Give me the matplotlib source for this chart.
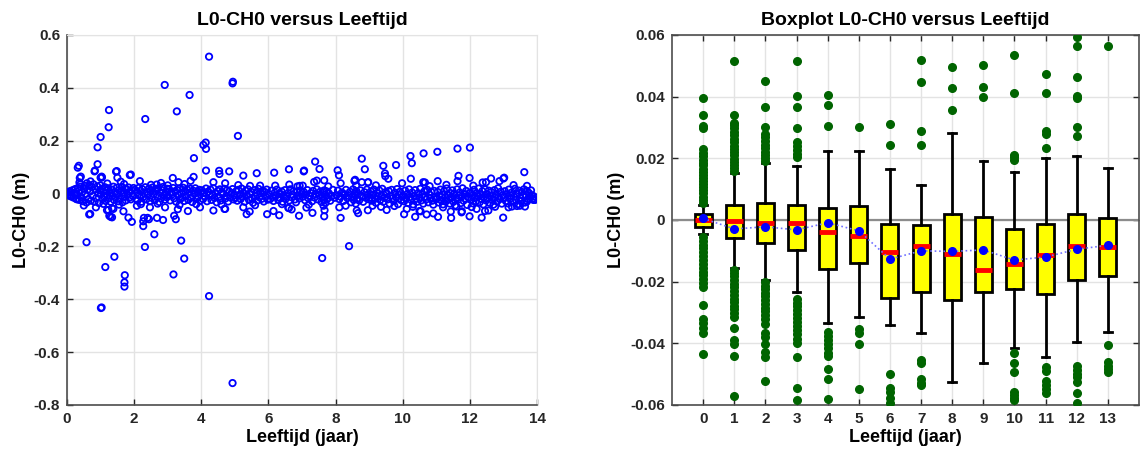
"""L0-CH0 residuals versus age: scatter of all points and a boxplot per year."""
import matplotlib

matplotlib.use("Agg")
import matplotlib.pyplot as plt

plt.rcParams["font.family"] = ["Liberation Sans", "DejaVu Sans"]
plt.rcParams["font.weight"] = "bold"

# ---- left panel: dense band of points, one row per age year ----
BAND_AGES = [
    [0.01, 0.03, 0.05, 0.07, 0.09, 0.12, 0.14, 0.17, 0.19, 0.22, 0.24, 0.27, 0.29, 0.32,
     0.35, 0.37, 0.4, 0.42, 0.45, 0.48, 0.5, 0.53, 0.55, 0.58, 0.61, 0.63, 0.66, 0.69,
     0.71, 0.74, 0.77, 0.79, 0.82, 0.85, 0.87, 0.9, 0.93, 0.95, 0.98, 0.99],
    [1.01, 1.03, 1.06, 1.08, 1.1, 1.13, 1.15, 1.18, 1.2, 1.23, 1.25, 1.28, 1.3, 1.33,
     1.35, 1.38, 1.4, 1.43, 1.45, 1.48, 1.5, 1.53, 1.55, 1.58, 1.6, 1.63, 1.65, 1.68,
     1.7, 1.73, 1.75, 1.78, 1.8, 1.83, 1.85, 1.88, 1.9, 1.93, 1.95, 1.98],
    [2.02, 2.05, 2.08, 2.1, 2.13, 2.16, 2.19, 2.22, 2.24, 2.27, 2.3, 2.33, 2.36, 2.38,
     2.41, 2.44, 2.47, 2.5, 2.52, 2.55, 2.58, 2.61, 2.64, 2.66, 2.69, 2.72, 2.75, 2.78,
     2.8, 2.83, 2.86, 2.89, 2.92, 2.94, 2.97, 2.99],
    [3.01, 3.04, 3.07, 3.1, 3.13, 3.16, 3.19, 3.22, 3.25, 3.28, 3.31, 3.34, 3.37, 3.4,
     3.43, 3.46, 3.49, 3.52, 3.55, 3.58, 3.61, 3.64, 3.67, 3.7, 3.73, 3.76, 3.79, 3.82,
     3.85, 3.88, 3.91, 3.94, 3.96, 3.99],
    [4.02, 4.05, 4.08, 4.11, 4.14, 4.17, 4.2, 4.24, 4.27, 4.3, 4.33, 4.36, 4.39, 4.42,
     4.46, 4.49, 4.52, 4.55, 4.58, 4.61, 4.64, 4.68, 4.71, 4.74, 4.77, 4.8, 4.83, 4.86,
     4.9, 4.93, 4.96, 4.99],
    [5.01, 5.04, 5.07, 5.1, 5.14, 5.17, 5.2, 5.23, 5.26, 5.29, 5.32, 5.36, 5.39, 5.42,
     5.45, 5.48, 5.51, 5.54, 5.58, 5.61, 5.64, 5.67, 5.7, 5.73, 5.76, 5.8, 5.83, 5.86,
     5.89, 5.92, 5.95, 5.98],
    [6.02, 6.05, 6.09, 6.12, 6.15, 6.19, 6.22, 6.25, 6.29, 6.32, 6.35, 6.39, 6.42, 6.45,
     6.49, 6.52, 6.55, 6.59, 6.62, 6.65, 6.69, 6.72, 6.75, 6.79, 6.82, 6.85, 6.89, 6.92,
     6.95, 6.98],
    [7.02, 7.05, 7.09, 7.12, 7.16, 7.19, 7.23, 7.26, 7.3, 7.33, 7.37, 7.4, 7.44, 7.47,
     7.51, 7.55, 7.58, 7.61, 7.63, 7.65, 7.66, 7.68, 7.7, 7.72, 7.76, 7.8, 7.84, 7.88,
     7.92, 7.97],
    [8.03, 8.07, 8.11, 8.15, 8.19, 8.23, 8.27, 8.31, 8.35, 8.39, 8.43, 8.46, 8.49, 8.52,
     8.54, 8.56, 8.58, 8.6, 8.62, 8.64, 8.67, 8.7, 8.74, 8.78, 8.82, 8.86, 8.9, 8.93,
     8.96, 8.99],
    [9.02, 9.05, 9.08, 9.11, 9.14, 9.17, 9.2, 9.23, 9.27, 9.3, 9.33, 9.36, 9.39, 9.42,
     9.45, 9.48, 9.52, 9.55, 9.58, 9.61, 9.64, 9.67, 9.7, 9.73, 9.77, 9.8, 9.83, 9.86,
     9.89, 9.92, 9.95, 9.98],
    [10.01, 10.04, 10.07, 10.1, 10.13, 10.16, 10.19, 10.22, 10.25, 10.28, 10.31, 10.34,
     10.37, 10.4, 10.43, 10.46, 10.49, 10.52, 10.55, 10.58, 10.61, 10.64, 10.67, 10.7,
     10.73, 10.76, 10.79, 10.82, 10.85, 10.88, 10.91, 10.94, 10.96, 10.99],
    [11.01, 11.04, 11.07, 11.09, 11.12, 11.15, 11.18, 11.2, 11.23, 11.26, 11.29, 11.31,
     11.34, 11.37, 11.4, 11.42, 11.45, 11.48, 11.51, 11.53, 11.56, 11.59, 11.62, 11.64,
     11.67, 11.7, 11.73, 11.75, 11.78, 11.81, 11.84, 11.86, 11.89, 11.92, 11.95, 11.98],
    [12.01, 12.04, 12.07, 12.09, 12.12, 12.15, 12.18, 12.2, 12.23, 12.26, 12.29, 12.31,
     12.34, 12.37, 12.4, 12.42, 12.45, 12.48, 12.51, 12.53, 12.56, 12.59, 12.62, 12.64,
     12.67, 12.7, 12.73, 12.75, 12.78, 12.81, 12.84, 12.86, 12.89, 12.92, 12.95, 12.98],
    [13.01, 13.04, 13.07, 13.1, 13.13, 13.16, 13.19, 13.22, 13.25, 13.28, 13.31, 13.34,
     13.37, 13.4, 13.43, 13.46, 13.49, 13.52, 13.55, 13.58, 13.61, 13.64, 13.67, 13.7,
     13.73, 13.76, 13.79, 13.82, 13.85, 13.88, 13.91, 13.94],
]
BAND_L0 = [
    [0.002, -0.004, 0.006, -0.008, 0.009, -0.011, 0.004, 0.013, -0.015, 0.002, 0.017, -0.02,
     -0.006, 0.021, 0.011, -0.024, 0.026, -0.013, 0.005, -0.029, 0.019, 0.029, -0.002,
     -0.034, 0.014, -0.021, 0.032, 0.008, -0.027, 0.024, -0.009, 0.035, -0.031, 0.016,
     -0.017, 0.027, 0.001, -0.036, 0.012, 0.031],
    [-0.003, 0.018, -0.021, 0.007, -0.012, 0.024, -0.028, 0.011, -0.006, 0.02, -0.017,
     0.002, -0.031, 0.015, -0.009, 0.026, -0.024, 0.005, -0.014, 0.022, -0.001, -0.029,
     0.013, -0.019, 0.009, 0.025, -0.033, 0.003, -0.011, 0.019, -0.026, 0.016, -0.004,
     0.023, -0.016, 0.008, -0.022, 0.012, -0.008, 0.021],
    [0.014, -0.019, 0.004, -0.027, 0.021, -0.008, 0.01, -0.031, 0.017, -0.013, 0.001, 0.024,
     -0.022, 0.007, -0.004, 0.019, -0.029, 0.012, -0.016, 0.023, -0.002, -0.025, 0.009,
     0.016, -0.011, 0.02, -0.032, 0.003, -0.018, 0.013, 0.025, -0.007, -0.023, 0.006,
     -0.014, 0.018],
    [-0.01, 0.017, -0.026, 0.005, -0.003, 0.021, -0.018, 0.009, -0.031, 0.013, -0.006,
     0.019, -0.022, 0.001, -0.014, 0.022, -0.028, 0.008, -0.009, 0.015, -0.024, 0.003,
     0.018, -0.016, -0.032, 0.011, -0.001, 0.02, -0.02, 0.006, -0.012, 0.014, -0.027, 0.004],
    [0.012, -0.021, 0.003, -0.011, 0.019, -0.029, 0.007, -0.004, 0.015, -0.024, -0.008,
     0.02, -0.017, 0.001, -0.033, 0.01, -0.013, 0.016, -0.026, 0.005, -0.002, 0.018, -0.019,
     -0.009, 0.013, -0.03, 0.008, -0.015, 0.002, 0.017, -0.022, -0.006],
    [-0.016, 0.009, -0.027, 0.014, -0.004, -0.021, 0.019, -0.011, 0.002, -0.031, 0.011,
     -0.007, 0.016, -0.024, -0.001, 0.007, -0.018, -0.035, 0.013, -0.009, 0.004, -0.026,
     0.018, -0.014, 0.001, -0.02, 0.01, -0.03, 0.006, -0.012, 0.015, -0.023],
    [-0.003, -0.021, 0.011, -0.013, -0.028, 0.004, -0.008, 0.015, -0.024, -0.001, -0.017,
     0.008, -0.031, -0.006, 0.013, -0.019, -0.011, 0.002, -0.026, 0.016, -0.014, -0.004,
     0.009, -0.022, -0.033, 0.006, -0.009, -0.018, 0.012, -0.002],
    [-0.012, 0.006, -0.025, -0.004, 0.013, -0.018, -0.009, 0.002, -0.029, 0.01, -0.015,
     -0.002, 0.016, -0.022, -0.007, 0.008, -0.032, -0.013, 0.004, -0.024, 0.012, -0.005,
     -0.035, 0.009, -0.019, 0.001, -0.027, -0.011, 0.014, -0.016],
    [-0.006, 0.011, -0.021, -0.012, 0.004, -0.028, -0.003, 0.014, -0.017, -0.009, 0.007,
     -0.033, -0.014, 0.016, -0.024, 0.001, -0.007, -0.038, 0.009, -0.019, -0.002, -0.026,
     0.012, -0.011, -0.031, 0.005, -0.016, 0.015, -0.004, -0.022],
    [-0.015, 0.008, -0.027, -0.004, 0.015, -0.02, -0.035, 0.002, -0.011, 0.012, -0.024,
     -0.007, 0.018, -0.031, -0.016, 0.005, -0.001, -0.022, 0.01, -0.038, -0.009, 0.014,
     -0.018, -0.028, 0.003, -0.013, 0.017, -0.04, -0.005, 0.007, -0.025, -0.012],
    [-0.008, -0.029, 0.011, -0.018, -0.002, -0.036, 0.016, -0.013, -0.024, 0.004, -0.041,
     -0.009, 0.013, -0.02, -0.031, 0.001, -0.015, 0.018, -0.026, -0.005, -0.038, 0.008,
     -0.011, -0.022, 0.014, -0.033, -0.003, -0.017, 0.006, -0.027, -0.042, 0.01, -0.014,
     -0.021],
    [-0.019, 0.006, -0.034, -0.01, 0.015, -0.026, -0.004, -0.041, 0.009, -0.015, -0.029,
     0.019, -0.007, -0.022, -0.038, 0.002, -0.013, 0.012, -0.031, -0.001, -0.045, -0.017,
     0.016, -0.024, -0.008, 0.004, -0.036, -0.012, 0.02, -0.027, -0.003, -0.019, 0.01,
     -0.043, -0.014, 0.001],
    [0.004, -0.023, -0.008, -0.037, 0.014, -0.016, -0.029, 0.001, -0.011, 0.019, -0.033,
     -0.005, -0.02, 0.009, -0.041, -0.013, 0.016, -0.026, -0.002, -0.018, 0.011, -0.035,
     -0.009, 0.006, -0.024, -0.042, 0.013, -0.015, -0.003, -0.03, 0.02, -0.012, -0.021,
     0.007, -0.038, -0.006],
    [-0.014, 0.009, -0.028, -0.003, -0.037, 0.015, -0.019, -0.008, 0.004, -0.031, -0.012,
     0.018, -0.024, -0.001, -0.04, 0.011, -0.016, -0.027, 0.006, -0.009, 0.016, -0.034,
     -0.005, 0.01, -0.021, 0.002, -0.013, 0.012, -0.007, -0.018, -0.011, -0.024],
]

# ---- left panel: points that stand apart from the band (age, L0-CH0) ----
SCATTER_OUTLIERS = [
    (4.23, 0.518), (2.91, 0.411), (4.93, 0.417), (4.94, 0.423), (3.65, 0.373),
    (1.25, 0.316), (3.27, 0.311), (2.33, 0.282), (1.24, 0.251), (5.09, 0.218),
    (1.0, 0.214), (0.91, 0.175), (4.13, 0.193), (4.06, 0.184), (4.14, 0.169),
    (3.78, 0.134), (0.91, 0.111), (0.35, 0.105), (0.32, 0.098), (0.82, 0.084),
    (1.0, 0.06), (1.04, 0.061), (1.46, 0.083), (1.87, 0.07), (4.14, 0.087),
    (4.53, 0.086), (4.54, 0.074), (4.83, 0.084), (5.25, 0.068), (5.65, 0.077),
    (6.17, 0.079), (6.61, 0.092), (7.05, 0.084), (7.06, 0.087), (7.39, 0.121),
    (7.52, 0.093), (8.06, 0.088), (8.1, 0.069), (8.78, 0.132), (8.87, 0.092),
    (9.42, 0.105), (9.47, 0.076), (9.48, 0.066), (9.8, 0.108), (10.23, 0.142),
    (10.27, 0.115), (10.62, 0.152), (11.03, 0.158), (11.63, 0.17), (12.0, 0.174),
    (13.62, 0.081), (13.0, 0.057), (11.66, 0.067), (11.99, 0.059), (12.63, 0.057),
    (7.36, 0.044), (7.66, 0.05), (8.56, 0.048), (8.96, 0.042), (9.98, 0.039),
    (10.66, 0.042), (11.04, 0.047), (12.38, 0.042), (12.88, 0.047), (6.93, 0.029),
    (3.15, 0.059), (3.68, 0.048), (3.77, 0.063), (0.38, 0.059), (0.37, 0.042),
    (0.41, 0.064), (0.83, 0.087), (1.03, 0.064), (1.48, 0.085), (1.5, 0.06),
    (1.9, 0.072), (2.17, 0.047), (3.32, 0.043), (4.36, 0.043), (2.67, 0.034),
    (0.59, 0.039), (0.4, 0.035), (4.71, 0.039), (5.75, 0.03), (6.2, 0.03),
    (6.62, 0.034), (6.86, 0.027), (7.02, 0.03), (7.44, 0.049), (7.78, 0.027),
    (8.15, 0.039), (8.58, 0.052), (8.61, 0.03), (8.78, 0.043), (8.97, 0.043),
    (9.57, 0.056), (10.24, 0.056), (10.61, 0.043), (11.63, 0.047), (12.48, 0.043),
    (13.02, 0.06), (1.2, 0.038), (1.7, 0.036), (2.5, 0.033), (3.0, 0.031),
    (3.5, 0.036), (5.1, 0.032), (5.45, 0.029), (9.2, 0.031), (10.8, 0.028),
    (11.3, 0.033), (12.1, 0.03), (13.3, 0.032), (13.7, 0.029), (1.6, 0.045),
    (2.8, 0.04), (0.7, 0.046),
    (4.93, -0.717), (1.03, -0.431), (1.01, -0.433), (4.23, -0.388), (1.72, -0.309),
    (1.71, -0.336), (1.71, -0.352), (3.17, -0.306), (1.14, -0.278), (1.41, -0.239),
    (3.49, -0.246), (7.6, -0.244), (2.32, -0.202), (8.4, -0.199), (0.58, -0.184),
    (3.4, -0.178), (2.6, -0.154), (2.27, -0.123), (2.27, -0.105), (2.29, -0.092),
    (1.93, -0.107), (1.83, -0.091), (2.68, -0.092), (2.86, -0.1), (2.4, -0.092),
    (2.44, -0.097), (1.3, -0.088), (1.26, -0.084), (1.34, -0.09), (0.66, -0.079),
    (1.19, -0.063), (1.68, -0.067), (1.34, -0.055), (3.19, -0.084), (3.24, -0.097),
    (3.3, -0.059), (3.6, -0.066), (4.69, -0.058), (5.35, -0.078), (5.44, -0.068),
    (5.96, -0.078), (6.15, -0.066), (6.32, -0.082), (6.61, -0.055), (6.91, -0.084),
    (7.13, -0.053), (7.31, -0.073), (7.66, -0.086), (7.67, -0.063), (8.15, -0.092),
    (8.67, -0.074), (8.96, -0.063), (9.52, -0.062), (10.04, -0.078), (10.37, -0.088),
    (10.5, -0.066), (10.71, -0.079), (11.05, -0.088), (11.43, -0.068), (11.44, -0.092),
    (11.99, -0.086), (12.35, -0.091), (12.99, -0.091), (12.45, -0.066), (11.75, -0.071),
    (13.25, -0.049), (13.64, -0.049), (0.69, -0.077), (1.23, -0.062), (1.38, -0.058),
    (0.86, -0.052), (1.08, -0.039), (2.47, -0.052), (2.92, -0.052), (2.08, -0.046),
    (3.96, -0.052), (4.36, -0.064), (4.71, -0.058), (5.25, -0.052), (6.59, -0.054),
    (6.69, -0.06), (7.64, -0.046), (8.11, -0.052), (8.63, -0.064), (9.1, -0.046),
    (10.12, -0.058), (10.53, -0.067), (10.91, -0.075), (11.76, -0.067), (12.2, -0.058),
    (12.55, -0.064), (13.15, -0.052), (13.49, -0.046), (13.89, -0.024), (13.7, -0.03),
    (0.3, -0.022), (0.5, -0.045), (1.55, -0.042), (2.2, -0.04), (2.7, -0.038),
    (3.35, -0.043), (3.85, -0.04), (4.6, -0.041), (5.6, -0.044), (6.4, -0.04),
    (7.2, -0.042), (8.3, -0.046), (9.35, -0.05), (9.75, -0.047), (10.3, -0.05),
    (11.2, -0.052), (11.6, -0.049), (12.05, -0.051), (12.75, -0.05), (13.4, -0.047),
]

# ---- right panel: boxplot statistics per age year ----
YEARS = list(range(14))
MEDIAN = [-0.0001, -0.0002, -0.001, -0.0011, -0.0039, -0.0053, -0.0105,
          -0.0085, -0.011, -0.0161, -0.0144, -0.0114, -0.0085, -0.0086]
Q1 = [-0.0023, -0.0059, -0.0073, -0.0096, -0.0159, -0.0138, -0.0253,
      -0.0233, -0.026, -0.0232, -0.0225, -0.0239, -0.0195, -0.0183]
Q3 = [0.002, 0.005, 0.0056, 0.0048, 0.004, 0.0045, -0.0012,
      -0.0016, 0.0018, 0.0011, -0.0029, -0.0014, 0.002, 0.0005]
WHISKER_LOW = [-0.0045, -0.0155, -0.0195, -0.0232, -0.0335, -0.0314, -0.034,
               -0.0365, -0.0526, -0.0465, -0.0416, -0.0443, -0.0397, -0.0362]
WHISKER_HIGH = [0.0048, 0.0152, 0.0185, 0.0176, 0.0225, 0.0225, 0.0166,
                0.0115, 0.0281, 0.019, 0.0155, 0.0202, 0.0208, 0.017]
MEAN = [0.0005, -0.0029, -0.0022, -0.0032, -0.0009, -0.0035, -0.0127,
        -0.01, -0.0102, -0.0097, -0.013, -0.012, -0.0095, -0.0082]
FLIERS = [
    [0.0055, 0.0066, 0.0076, 0.0087, 0.0097, 0.0106, 0.0117, 0.0126, 0.0137, 0.0146,
     0.0157, 0.0166, 0.0177, 0.0186, 0.0196, 0.0207, 0.0216, 0.0231, 0.0297, 0.0305,
     0.034, 0.0395, -0.0055, -0.0068, -0.008, -0.0092, -0.0105, -0.0118, -0.013,
     -0.0142, -0.0155, -0.0168, -0.018, -0.0192, -0.0205, -0.0218, -0.0275, -0.032,
     -0.0335, -0.035, -0.0365, -0.0435],
    [0.0158, 0.0168, 0.0178, 0.0188, 0.0198, 0.021, 0.022, 0.023, 0.024, 0.0252, 0.0263,
     0.0275, 0.0286, 0.0297, 0.0308, 0.0315, 0.034, 0.0515, -0.0162, -0.0172, -0.0183,
     -0.0195, -0.0206, -0.0218, -0.023, -0.0242, -0.0255, -0.0266, -0.0278, -0.029,
     -0.0302, -0.0316, -0.035, -0.039, -0.0403, -0.044, -0.057],
    [0.0192, 0.0202, 0.0212, 0.0222, 0.0233, 0.0244, 0.0256, 0.0268, 0.028, 0.0302,
     0.0365, 0.0452, -0.0202, -0.0213, -0.0225, -0.0237, -0.0248, -0.026, -0.0272,
     -0.0284, -0.0296, -0.0308, -0.032, -0.0337, -0.0365, -0.038, -0.0402, -0.0428,
     -0.0445, -0.0522],
    [0.0205, 0.0215, 0.0228, 0.024, 0.0252, 0.0297, 0.0365, 0.0402, 0.0515, -0.0255,
     -0.0268, -0.028, -0.0292, -0.0305, -0.0318, -0.033, -0.0345, -0.0358, -0.037,
     -0.0385, -0.0398, -0.0445, -0.0545, -0.0585],
    [0.0305, 0.0372, 0.0405, -0.0362, -0.0375, -0.0388, -0.0402, -0.0415, -0.043,
     -0.0442, -0.0482, -0.0515, -0.058],
    [0.03, -0.0352, -0.0365, -0.0402, -0.0548],
    [0.0243, 0.031, -0.0498, -0.0545, -0.0558, -0.0578, -0.0592],
    [0.0242, 0.0287, 0.0448, 0.052, -0.0455, -0.0465, -0.0515, -0.0528, -0.0535],
    [0.0358, 0.0427, 0.0495],
    [0.0398, 0.0432, 0.0502],
    [0.0195, 0.0205, 0.0212, 0.0412, 0.0535, -0.043, -0.0465, -0.0492, -0.0558, -0.0568,
     -0.0578, -0.0585],
    [0.0235, 0.0278, 0.0288, 0.0412, 0.0475, -0.0478, -0.049, -0.0522, -0.0535, -0.0548,
     -0.056],
    [0.0272, 0.0302, 0.0395, 0.0402, 0.0463, 0.0565, 0.0595, -0.0472, -0.0485, -0.0498,
     -0.051, -0.0525, -0.0562, -0.0592],
    [0.0565, -0.0405, -0.0462, -0.0472, -0.0482, -0.0492],
]

TICK_COLOR = "#262626"
GRID_COLOR = "#e3e3e3"


def style_axes(ax):
    ax.grid(True, color=GRID_COLOR, lw=1.0)
    ax.set_axisbelow(True)
    ax.tick_params(direction="in", length=4, width=1, colors=TICK_COLOR,
                   labelsize=11, pad=5)
    for label in ax.get_xticklabels() + ax.get_yticklabels():
        label.set_fontweight("bold")
    for side in ("left", "bottom"):
        ax.spines[side].set_color("#4d4d4d")
        ax.spines[side].set_linewidth(1.2)


def main():
    fig = plt.figure(figsize=(11.4, 4.55), dpi=100)

    # left: scatter
    ax1 = fig.add_axes([0.0588, 0.1099, 0.4123, 0.8132])
    ages = [a for row in BAND_AGES for a in row] + [p[0] for p in SCATTER_OUTLIERS]
    vals = [v for row in BAND_L0 for v in row] + [p[1] for p in SCATTER_OUTLIERS]
    ax1.scatter(ages, vals, s=21, facecolors="none", edgecolors="#0000ff",
                linewidths=1.3, zorder=3)
    ax1.set_xlim(0, 14)
    ax1.set_ylim(-0.8, 0.6)
    ax1.set_xticks(range(0, 15, 2))
    ax1.set_yticks([-0.8, -0.6, -0.4, -0.2, 0, 0.2, 0.4, 0.6])
    ax1.set_yticklabels(["-0.8", "-0.6", "-0.4", "-0.2", "0", "0.2", "0.4", "0.6"])
    style_axes(ax1)
    for side in ("top", "right"):
        ax1.spines[side].set_color(GRID_COLOR)
    ax1.set_title("L0-CH0 versus Leeftijd", fontsize=14, fontweight="bold", pad=7)
    ax1.set_xlabel("Leeftijd (jaar)", fontsize=13, fontweight="bold", labelpad=2)
    ax1.set_ylabel("L0-CH0 (m)", fontsize=13, fontweight="bold", labelpad=3)

    # right: boxplot per year
    ax2 = fig.add_axes([0.5895, 0.1099, 0.4096, 0.8132])
    stats = [
        {"med": MEDIAN[i], "q1": Q1[i], "q3": Q3[i], "whislo": WHISKER_LOW[i],
         "whishi": WHISKER_HIGH[i], "fliers": FLIERS[i]}
        for i in YEARS
    ]
    ax2.axhline(0, color="#8c8c8c", lw=1.6, zorder=1)
    ax2.bxp(
        stats, positions=YEARS, widths=0.55, capwidths=0.24, patch_artist=True,
        boxprops=dict(facecolor="#ffff00", edgecolor="black", lw=2.0),
        whiskerprops=dict(color="black", lw=2.0),
        capprops=dict(color="black", lw=2.0),
        medianprops=dict(color="#ff0000", lw=3.5, solid_capstyle="butt"),
        flierprops=dict(marker="o", markerfacecolor="#006400",
                        markeredgecolor="#006400", markersize=5.5),
        manage_ticks=False, zorder=3,
    )
    ax2.plot(YEARS, MEAN, ls=":", color="#7070ff", lw=1.2, zorder=4)
    ax2.plot(YEARS, MEAN, ls="none", marker="o", color="#0000ff", markersize=5.5,
             zorder=5)
    ax2.set_xlim(-1, 14)
    ax2.set_ylim(-0.06, 0.06)
    ax2.set_xticks(YEARS)
    ax2.set_xticklabels([str(y) for y in YEARS])
    ax2.set_yticks([-0.06, -0.04, -0.02, 0, 0.02, 0.04, 0.06])
    ax2.set_yticklabels(["-0.06", "-0.04", "-0.02", "0", "0.02", "0.04", "0.06"])
    style_axes(ax2)
    ax2.tick_params(top=True, right=True)
    for side in ("top", "right"):
        ax2.spines[side].set_color("#4d4d4d")
        ax2.spines[side].set_linewidth(1.2)
    ax2.set_title("Boxplot L0-CH0 versus Leeftijd", fontsize=14, fontweight="bold",
                  pad=7)
    ax2.set_xlabel("Leeftijd (jaar)", fontsize=13, fontweight="bold", labelpad=2)
    ax2.set_ylabel("L0-CH0 (m)", fontsize=13, fontweight="bold", labelpad=4)

    fig.savefig("out.png", dpi=100)


if __name__ == "__main__":
    main()
